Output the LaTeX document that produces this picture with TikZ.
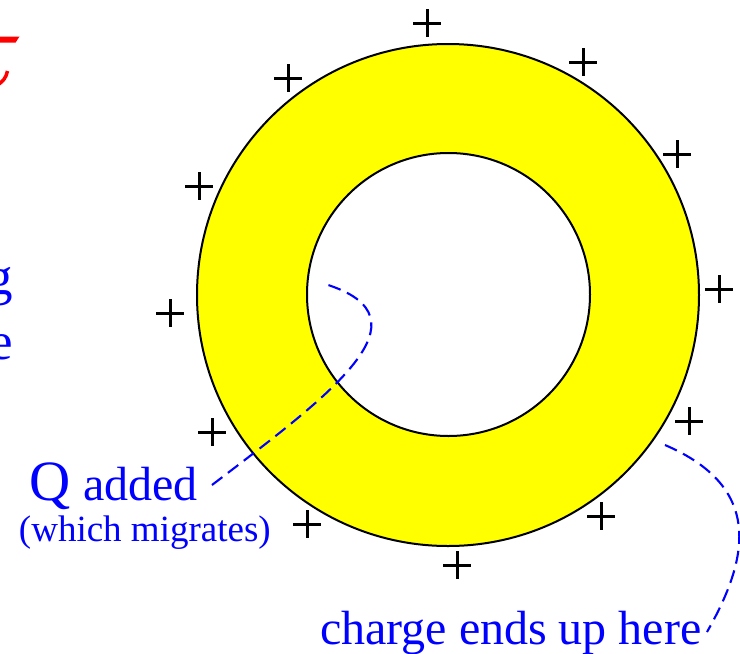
\documentclass[tikz,border=0pt]{standalone}
\usepackage{fontspec}
\setmainfont{Liberation Serif}
\definecolor{ringyellow}{RGB}{255,255,0}
\definecolor{lblue}{RGB}{0,0,255}
\definecolor{lred}{RGB}{255,0,0}
\begin{document}
\begin{tikzpicture}[x=1pt,y=-1pt,
  plus/.style={line width=3pt, black},
  lbl/.style={text=lblue, inner sep=0pt, outer sep=0pt},
  lead/.style={lblue, line width=2.1pt, dash pattern=on 13pt off 7pt},
  big/.style={font=\fontsize{48}{56}\selectfont},
]
\clip (0,0) rectangle (740,654);
\fill[white] (0,0) rectangle (740,654);
% ring
\fill[ringyellow, even odd rule] (448,295) circle[radius=251] (448.5,294.5) circle[radius=141.5];
\draw[line width=2pt] (448,295) circle[radius=251];
\draw[line width=2pt] (448.5,294.5) circle[radius=141.5];
% plus charges
\foreach \p in {(427,23),(288,78),(583,62),(677,154),(199,186),(719,289),(170,313),(689,421),(212,432),(307,524),(601,516),(457,565)}
  \draw[plus] \p +(-14,0) -- +(14,0) \p +(0,-14) -- +(0,14);
% clipped remnants at left edge
\fill[lred] (0,36.5) -- (19.5,36.5) -- (15.5,42.7) -- (0,42.7) -- cycle;
\draw[lred, line width=3.5pt] (7.5,71) .. controls (6,78) and (3,81) .. (-1,84);
\node[lbl, anchor=base east, font=\fontsize{53}{60}\selectfont] (gcut) at (13,294) {g};
\node[lbl, anchor=base east, font=\fontsize{53}{60}\selectfont] (ecut) at (13.5,359) {e};
% labels
\node[lbl, big, anchor=base west] (charge) at (320,644) {charge ends up here};
\node[lbl, big, anchor=base west] (qadd) at (30,500) {{\fontsize{57}{60}\selectfont Q} added};
\node[lbl, anchor=base west, font=\fontsize{37}{42}\selectfont] (mig) at (19,541) {(which migrates)};
% leader lines
\coordinate (inA) at (325,284);
\coordinate (qend) at (212,485);
\draw[lead] (qend) .. controls (330,395) and (435,318) .. (inA);
\coordinate (outB) at (665,445);
\coordinate (hend) at (707,632);
\draw[lead] (outB) .. controls (765,488) and (748,560) .. (hend);
\end{tikzpicture}
\end{document}
